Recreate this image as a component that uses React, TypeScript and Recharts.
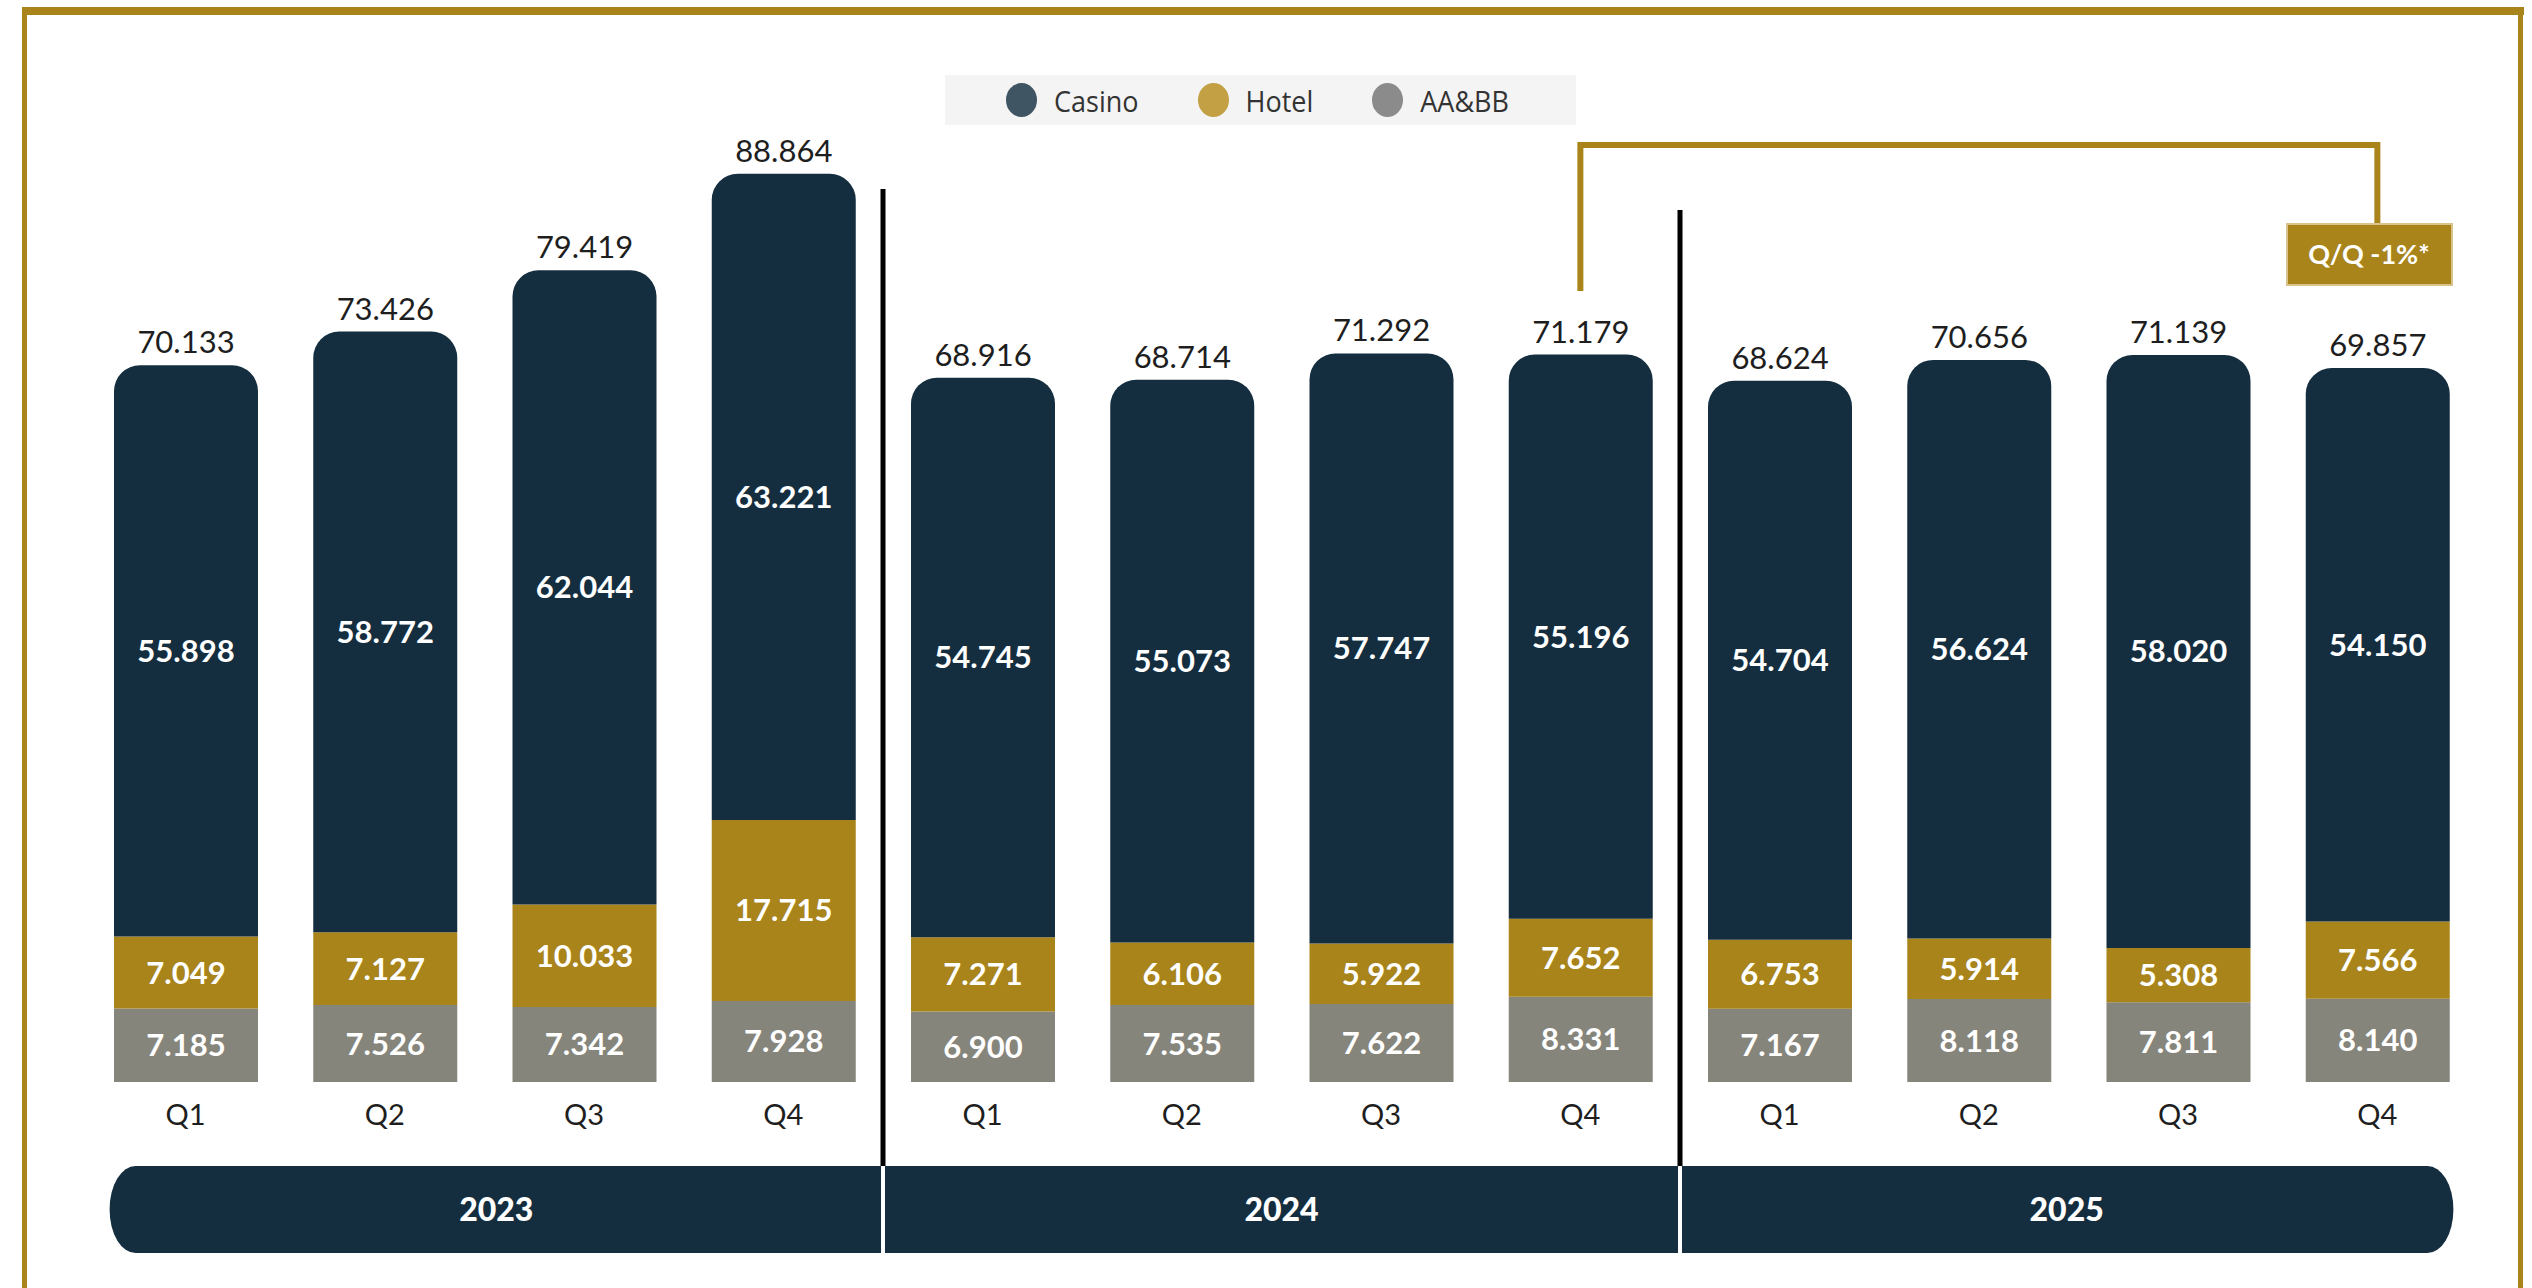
import React from 'react';
import { BarChart, Bar, XAxis, YAxis, LabelList } from 'recharts';

// quarterly revenue split (values as printed on the slide)
const yearLabels = ['2023', '2024', '2025'];
const quarters = ['Q1', 'Q2', 'Q3', 'Q4', 'Q1', 'Q2', 'Q3', 'Q4', 'Q1', 'Q2', 'Q3', 'Q4'];
const casino = [55.898, 58.772, 62.044, 63.221, 54.745, 55.073, 57.747, 55.196, 54.704, 56.624, 58.02, 54.15];
const hotel = [7.049, 7.127, 10.033, 17.715, 7.271, 6.106, 5.922, 7.652, 6.753, 5.914, 5.308, 7.566];
const aabb = [7.185, 7.526, 7.342, 7.928, 6.9, 7.535, 7.622, 8.331, 7.167, 8.118, 7.811, 8.14];
const totals = [70.133, 73.426, 79.419, 88.864, 68.916, 68.714, 71.292, 71.179, 68.624, 70.656, 71.139, 69.857];
const qoqNote = 'Q/Q -1%*';

const legendItems = [
  { name: 'Casino', color: '#3f5563' },
  { name: 'Hotel', color: '#c4a044' },
  { name: 'AA&BB', color: '#8b8b8b' },
];

const NAVY = '#142e3f';
const GOLD = '#a8841b';
const GREY = '#86857c';

const data = quarters.map((q, i) => ({
  id: `${yearLabels[Math.floor(i / 4)]} ${q}`,
  casino: casino[i],
  hotel: hotel[i],
  aabb: aabb[i],
  total: totals[i],
}));

// layout
const W = 2532;
const H = 1288;
const margin = { top: 60, right: 55, left: 86, bottom: 146 };
const xAxisHeight = 60;
const barSize = 144;
const plotW = W - margin.left - margin.right;
const band = plotW / data.length;
const center = (i: number) => margin.left + band * (i + 0.5);

const fmt = (v: any) => Number(v).toFixed(3);

const QuarterTick = (props: any) => {
  const { x, y, payload } = props;
  return (
    <text x={x} y={y} dy={35} textAnchor="middle" fontSize={29} fill="#1e1e1e">
      {String(payload.value).split(' ')[1]}
    </text>
  );
};

function Overlay() {
  const barLeft = center(0) - barSize / 2 - 4;
  const barRight = center(data.length - 1) + barSize / 2 + 4;
  const splits = [1, 2].map((g) => (center(g * 4 - 1) + center(g * 4)) / 2);
  const edges = [barLeft, ...splits, barRight];
  const yearTop = 1166;
  const yearH = 87;
  const bx1 = center(7);
  const bx2 = center(11);
  return (
    <svg width={W} height={H} style={{ position: 'absolute', left: 0, top: 0, pointerEvents: 'none' }}>
      {/* frame */}
      <rect x={22} y={7} width={2502} height={8} fill={GOLD} />
      <rect x={22} y={7} width={5} height={H} fill={GOLD} />
      <rect x={2518} y={7} width={5} height={H} fill={GOLD} />

      {/* year dividers */}
      <line x1={splits[0]} x2={splits[0]} y1={189} y2={yearTop} stroke="#000" strokeWidth={5} />
      <line x1={splits[1]} x2={splits[1]} y1={210} y2={yearTop} stroke="#000" strokeWidth={5} />

      {/* year band */}
      <rect x={barLeft} y={yearTop} width={barRight - barLeft} height={yearH} rx={26} ry={43} fill={NAVY} />
      {splits.map((s, i) => (
        <line key={i} x1={s} x2={s} y1={yearTop} y2={yearTop + yearH} stroke="#fff" strokeWidth={4} />
      ))}
      {yearLabels.map((y, i) => (
        <text
          key={y}
          x={(edges[i] + edges[i + 1]) / 2}
          y={yearTop + yearH / 2}
          dy={11}
          textAnchor="middle"
          fontSize={32}
          fontWeight={900}
          fill="#fff"
          fontFamily="Lato, sans-serif"
        >
          {y}
        </text>
      ))}

      {/* Q/Q bracket */}
      <polyline
        points={`${bx1},291 ${bx1},145 ${bx2},145 ${bx2},224`}
        fill="none"
        stroke={GOLD}
        strokeWidth={6}
      />
      <rect x={2287} y={224} width={165} height={61} fill={GOLD} stroke="#d8c48a" strokeWidth={2} />
      <text
        x={2369}
        y={254}
        dy={10}
        textAnchor="middle"
        fontSize={27}
        fontWeight={700}
        fill="#fff"
        fontFamily="Lato, sans-serif"
      >
        {qoqNote}
      </text>
    </svg>
  );
}

function LegendBox() {
  return (
    <div
      style={{
        position: 'absolute',
        left: 945,
        top: 75,
        width: 631,
        height: 50,
        background: '#f4f4f4',
        display: 'flex',
        alignItems: 'center',
        paddingLeft: 61,
        boxSizing: 'border-box',
        fontFamily: '"Open Sans", sans-serif',
        fontSize: 27,
        color: '#333',
      }}
    >
      {legendItems.map((it) => (
        <div key={it.name} style={{ display: 'flex', alignItems: 'center', marginRight: 59 }}>
          <span
            style={{
              display: 'inline-block',
              width: 31,
              height: 34,
              borderRadius: '50%',
              background: it.color,
              marginRight: 17,
            }}
          />
          <span style={{ display: 'inline-block', transform: 'scaleY(1.08)' }}>{it.name}</span>
        </div>
      ))}
    </div>
  );
}

export default function App() {
  return (
    <div style={{ position: 'absolute', left: 0, top: 0, width: W, height: H, background: '#fff' }}>
      <BarChart
        width={W}
        height={H}
        data={data}
        margin={margin}
        barSize={barSize}
        style={{ fontFamily: 'Lato, sans-serif' }}
      >
        <XAxis
          dataKey="id"
          axisLine={false}
          tickLine={false}
          interval={0}
          height={xAxisHeight}
          tick={<QuarterTick />}
        />
        <YAxis hide domain={[0, 100]} />
        <Bar dataKey="aabb" stackId="rev" fill={GREY} isAnimationActive={false}>
          <LabelList dataKey="aabb" position="center" fill="#fff" fontSize={31} fontWeight={700} formatter={fmt} />
        </Bar>
        <Bar dataKey="hotel" stackId="rev" fill={GOLD} isAnimationActive={false}>
          <LabelList dataKey="hotel" position="center" fill="#fff" fontSize={31} fontWeight={700} formatter={fmt} />
        </Bar>
        <Bar dataKey="casino" stackId="rev" fill={NAVY} radius={[26, 26, 0, 0]} isAnimationActive={false}>
          <LabelList dataKey="casino" position="center" fill="#fff" fontSize={31} fontWeight={700} formatter={fmt} />
          <LabelList dataKey="total" position="top" offset={12} fill="#1e1e1e" fontSize={31} formatter={fmt} />
        </Bar>
      </BarChart>
      <Overlay />
      <LegendBox />
    </div>
  );
}
